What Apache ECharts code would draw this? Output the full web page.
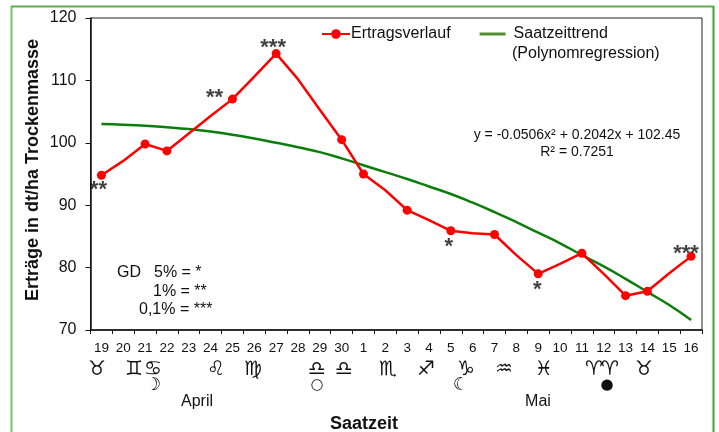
<!DOCTYPE html>
<html><head><meta charset="utf-8">
<style>html,body{margin:0;padding:0;background:#fff}#c{width:719px;height:432px}</style>
<script src="https://cdn.jsdelivr.net/npm/echarts@6/dist/echarts.min.js"></script>
</head><body><div id="c"></div>
<script>
const categories = ['19','20','21','22','23','24','25','26','27','28','29','30','1','2','3','4','5','6','7','8','9','10','11','12','13','14','15','16'];
const ertrag = [94.8,97.1,99.8,98.7,101.5,104.3,107,110.6,114.3,110.2,105.3,100.5,95,92.4,89.2,87.6,85.9,85.5,85.3,82,79,80.6,82.3,79,75.5,76.2,79.1,81.8];
const markedDays = ['19','21','22','25','27','30','1','3','5','7','9','11','13','14','16'];
const trend = [103,102.9,102.75,102.5,102.2,101.8,101.3,100.7,100,99.3,98.5,97.5,96.4,95.3,94.2,93,91.8,90.4,88.9,87.3,85.6,83.9,82,80.2,78.2,76.1,74,71.6];
const yTicks = [70,80,90,100,110,120];
const stars = [['19',94.8,'**',-3,15],['25',107,'**',-18,-1],['27',114.3,'***',-3,-6],['5',85.9,'*',-2,16],['9',79,'*',-1,16],['16',81.8,'***',-5,-2]];
const zodiac = [['♉',97,370],['♊',134,370],['♋',153,370],['♌',216,370],['♍',253,370],['♎',317,370],['♎',344,370],['♏',388,370],['♐',426,370],['♑',466,370],['♒',504,370],['♓',544,370],['♈',594,370],['♈',610,370],['♉',644,370]];
const moons = [['☽',153,385,18],['○',317,385,15],['☾',461,385,18],['●',607,385,15]];
const F='"Liberation Sans",Arial,sans-serif';
const T=(text,x,y,size,extra)=>({type:'text',x,y,z:10,style:Object.assign({text,fill:'#111',font:`${size}px ${F}`,textAlign:'center',textVerticalAlign:'middle'},extra||{})});
const L=(x1,y1,x2,y2,c)=>({type:'line',z:1,shape:{x1,y1,x2,y2},style:{stroke:c,lineWidth:2}});
const graphics=[
 L(11.5,6,11.5,432,'#7cc06e'),L(11,6.5,714,6.5,'#5cb04c'),L(713.5,6,713.5,432,'#3fa432'),
 {type:'text',x:33,y:170,rotation:Math.PI/2,z:10,style:{text:'Erträge in dt/ha Trockenmasse',fill:'#111',font:`bold 18px ${F}`,textAlign:'center',textVerticalAlign:'middle'}},
 T('Saatzeit',364,424,18,{font:`bold 18px ${F}`}),
 T('April',197,402,16),T('Mai',538,402,16),
 T('(Polynomregression)',512,54,16,{textAlign:'left'}),
 T('y = -0.0506x² + 0.2042x + 102.45',577,135,14),
 T('R² = 0.7251',577,152,14),
 T('GD',117,273,16,{textAlign:'left'}),
 T('5% = *',154,273,16,{textAlign:'left'}),
 T('1% = **',153,292,16,{textAlign:'left'}),
 T('0,1% = ***',139,310,16,{textAlign:'left'})
];
zodiac.forEach(z=>graphics.push(T(z[0],z[1],z[2],20,{font:`20px "DejaVu Sans"`})));
moons.forEach(z=>graphics.push(T(z[0],z[1],z[2],z[3],{font:`${z[3]}px "DejaVu Sans"`})));
const chart=echarts.init(document.getElementById('c'),null,{renderer:'canvas'});
chart.setOption({
 animation:false,backgroundColor:'#fff',
 textStyle:{fontFamily:F},
 grid:{left:90.5,right:17,top:18,bottom:102,show:true,borderColor:'#222',borderWidth:1,backgroundColor:'transparent'},
 legend:{left:316,top:21,itemGap:29,itemWidth:28,itemHeight:12,selectedMode:false,textStyle:{fontSize:16,color:'#111',fontFamily:F,padding:[0,0,0,-4]},
  data:[{name:'Ertragsverlauf'},{name:'Saatzeittrend',icon:'path://M0 0L0 0ZM0 4.6H26V7.4H0ZM28 12L28 12Z',itemStyle:{color:'#4f8f2f'},textStyle:{fontSize:16,color:'#111',fontFamily:F,padding:[0,0,0,1]}}]},
 xAxis:{type:'category',data:categories,boundaryGap:true,
  axisLine:{lineStyle:{color:'#111',width:1.5}},axisTick:{show:true,alignWithLabel:false,length:4,lineStyle:{color:'#111'}},
  axisLabel:{interval:0,fontSize:13.5,color:'#111',margin:11,fontFamily:F},splitLine:{show:false}},
 yAxis:{type:'value',min:yTicks[0],max:yTicks[yTicks.length-1],interval:10,
  axisLine:{show:true,lineStyle:{color:'#111',width:1.5}},axisTick:{show:true,length:5,lineStyle:{color:'#111'}},
  axisLabel:{fontSize:16,color:'#111',margin:14,fontFamily:F},splitLine:{show:false}},
 series:[
  {name:'Saatzeittrend',type:'line',data:trend,smooth:true,symbol:'none',z:2,lineStyle:{color:'#0a7d0a',width:2.5},itemStyle:{color:'#0a7d0a'}},
  {name:'Ertragsverlauf',type:'line',z:3,symbol:'circle',data:ertrag.map((v,i)=>({value:v,symbol:markedDays.includes(categories[i])?'circle':'none'})),symbolSize:9,showSymbol:true,showAllSymbol:true,lineStyle:{color:'#f00',width:2.5},itemStyle:{color:'#f00'}},
  {name:'stars',type:'scatter',z:5,symbolSize:1,itemStyle:{color:'transparent'},
   data:stars.map(s=>({value:[s[0],s[1]],label:{show:true,formatter:s[2],position:'inside',offset:[s[3],s[4]],fontSize:22,fontWeight:'bold',color:'#111',fontFamily:F}}))}
 ],
 graphic:graphics
});
</script></body></html>
